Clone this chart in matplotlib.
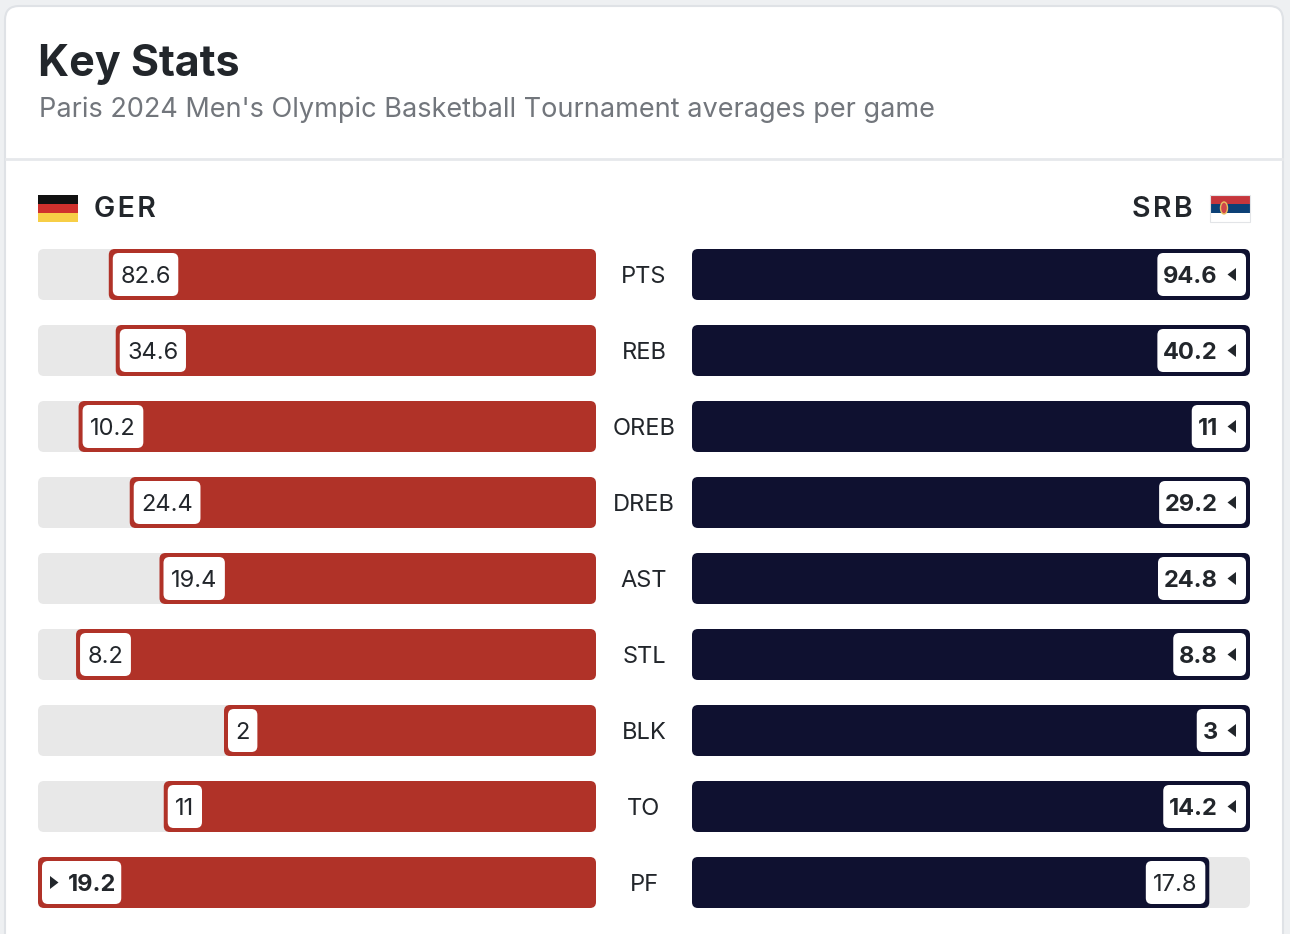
import matplotlib.pyplot as plt
from matplotlib.patches import FancyBboxPatch, Rectangle, Polygon, Ellipse

plt.rcParams['font.family'] = ['Inter', 'DejaVu Sans']

# data
stats = ['PTS', 'REB', 'OREB', 'DREB', 'AST', 'STL', 'BLK', 'TO', 'PF']
ger = [82.6, 34.6, 10.2, 24.4, 19.4, 8.2, 2, 11, 19.2]
srb = [94.6, 40.2, 11, 29.2, 24.8, 8.8, 3, 14.2, 17.8]
teams = ['GER', 'SRB']
title = 'Key Stats'
subtitle = "Paris 2024 Men's Olympic Basketball Tournament averages per game"

RED = '#b03228'
NAVY = '#0f1130'
TRACK = '#e8e8e8'
DARK = '#22262b'

fig = plt.figure(figsize=(12.9, 9.34), dpi=100)
fig.patch.set_facecolor('#eef0f2')
ax = fig.add_axes([0, 0, 1, 1])
ax.set_xlim(0, 1290)
ax.set_ylim(934, 0)
ax.axis('off')

# card
ax.add_patch(FancyBboxPatch((5, 6), 1278, 980, boxstyle='round,pad=0,rounding_size=14',
                            fc='white', ec='#dfe2e6', lw=1.5))
ax.plot([6, 1282], [159, 159], color='#e6e8eb', lw=2)

ax.text(38, 76, title, fontsize=31, fontweight='bold', color=DARK, va='baseline')
ax.text(39, 117, subtitle, fontsize=19.5, color='#72767c', va='baseline')

# team header (spaced letters)
ax.text(94, 217, '\u200a'.join(teams[0]), fontsize=20.5, fontweight='semibold',
        color=DARK, va='baseline')
ax.text(1193, 217, '\u200a'.join(teams[1]), fontsize=20.5, fontweight='semibold',
        color=DARK, va='baseline', ha='right')
for i, c in enumerate(['#111111', '#d0312d', '#f7ce46']):
    ax.add_patch(Rectangle((38, 195 + 9 * i), 40, 9, fc=c, ec='none'))
for i, c in enumerate(['#c6363c', '#0c4076', '#ffffff']):
    ax.add_patch(Rectangle((1210, 195 + 9 * i), 40, 9, fc=c, ec='none'))
ax.add_patch(Rectangle((1210, 195), 40, 27, fc='none', ec='#e2e4e7', lw=0.8))
ax.add_patch(Ellipse((1224, 208), 7, 12, fc='#d0464a', ec='#e8c060', lw=1))

# layout
top0, step, bh = 249, 76, 51
lx0, lx1 = 38, 596
rx0, rx1 = 692, 1250
tw = lx1 - lx0
fs_val = 17

renderer = fig.canvas.get_renderer()


def text_width(t):
    return t.get_window_extent(renderer).width


def rbox(x, y, w, h, color, r=6):
    ax.add_patch(FancyBboxPatch((x, y), w, h, boxstyle=f'round,pad=0,rounding_size={r}',
                                fc=color, ec='none'))


for i, (s, g, r) in enumerate(zip(stats, ger, srb)):
    top = top0 + i * step
    yc = top + bh / 2
    base = yc + 8.5
    mx = max(g, r)
    gw = g / mx * tw
    rw = r / mx * tw

    ax.text(644, base, s, fontsize=17, color=DARK, ha='center', va='baseline')

    # GER (left, grows to the left)
    if g < mx:
        rbox(lx0, top, tw, bh, TRACK)
    gx = lx1 - gw
    rbox(gx, top, gw, bh, RED)
    # SRB (right)
    if r < mx:
        rbox(rx0, top, tw, bh, TRACK)
    rbox(rx0, top, rw, bh, NAVY)

    # GER value box
    bx = gx + 4
    if g == mx:
        ax.add_patch(Polygon([[bx + 8, yc - 6.5], [bx + 8, yc + 6.5], [bx + 16.5, yc]],
                             closed=True, fc=DARK, ec='none', zorder=4))
        t = ax.text(bx + 26, base, f'{g:g}', fontsize=fs_val, fontweight='bold',
                    color=DARK, va='baseline', zorder=4)
        w = 26 + text_width(t) + 5
    else:
        t = ax.text(bx + 7.5, base, f'{g:g}', fontsize=fs_val, color=DARK,
                    va='baseline', zorder=4)
        w = text_width(t) + 15
    rbox(bx, top + 4, w, bh - 8, 'white', r=6)

    # SRB value box
    be = rx0 + rw - 4
    if r == mx:
        ax.add_patch(Polygon([[be - 10, yc - 6.5], [be - 10, yc + 6.5], [be - 18.5, yc]],
                             closed=True, fc=DARK, ec='none', zorder=4))
        t = ax.text(be - 28, base, f'{r:g}', fontsize=fs_val, fontweight='bold',
                    color=DARK, va='baseline', ha='right', zorder=4)
        w = 28 + text_width(t) + 6
    else:
        t = ax.text(be - 7.5, base, f'{r:g}', fontsize=fs_val, color=DARK,
                    va='baseline', ha='right', zorder=4)
        w = text_width(t) + 15
    rbox(be - w, top + 4, w, bh - 8, 'white', r=6)

fig.savefig('out.png', dpi=100, facecolor=fig.get_facecolor())
